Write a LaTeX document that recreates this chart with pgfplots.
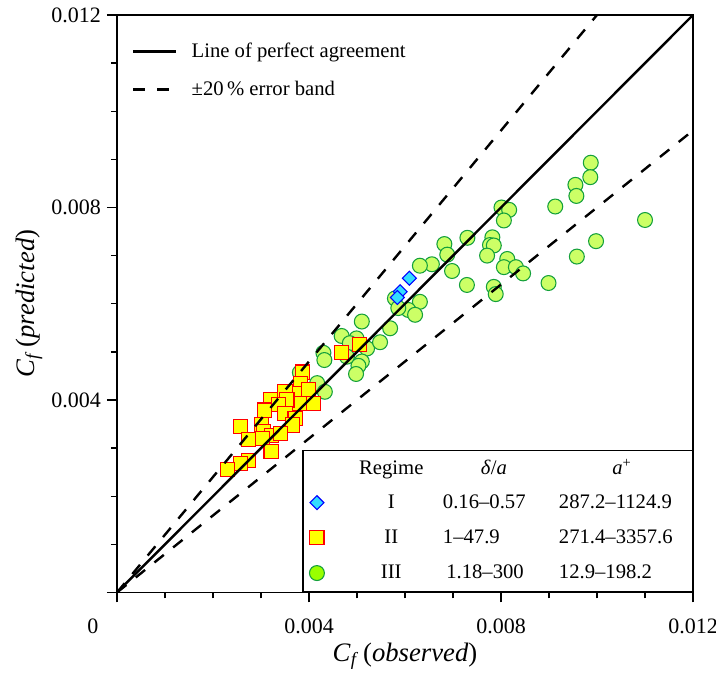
\documentclass[border=0pt]{standalone}
\usepackage{fontspec}
\setmainfont{Liberation Serif}
\newcommand{\tk}[1]{\mbox{\fontsize{16.5}{20}\selectfont #1}}
\usepackage{pgfplots}
\pgfplotsset{compat=1.18}

\definecolor{cyanfill}{RGB}{51,221,255}
\definecolor{diaedge}{RGB}{0,0,255}
\definecolor{sqfill}{RGB}{255,255,0}
\definecolor{sqedge}{RGB}{255,0,0}
\definecolor{cfill}{RGB}{204,255,102}
\definecolor{cedge}{RGB}{20,160,60}
\definecolor{clegend}{RGB}{153,255,0}

\pgfplotsset{
  common/.style={scale only axis, width=432pt, height=433.1pt,
    xmin=0, xmax=0.012, ymin=0, ymax=0.012},
  regI/.style={only marks, mark=square*, mark size=3.7pt,
    mark options={rotate=45, fill=cyanfill, draw=diaedge, line width=0.8pt}},
  regII/.style={only marks, mark=square*, mark size=5.3pt,
    mark options={fill=sqfill, draw=sqedge, line width=0.8pt}},
  regIII/.style={only marks, mark=*, mark size=5.6pt,
    mark options={fill=cfill, draw=cedge, line width=0.8pt}},
}

\begin{document}
\begin{tikzpicture}
% points and the regime table
\begin{axis}[common, hide axis,
  legend image code/.code={\path[draw=none, fill=none] (-7pt,-7pt) rectangle (7pt,7pt);
    \draw[#1] plot coordinates {(0pt,0pt)};},
  legend style={at={(rel axis cs:1,0)}, anchor=south east, draw=black,
    line width=1.1pt, fill=white, font=\fontsize{15.5}{18}\selectfont,
    inner xsep=3.5pt, inner ysep=7pt, nodes={inner sep=0pt}, row sep=12.4pt,
    /tikz/every odd column/.append style={column sep=10pt},
    cells={anchor=west}},
]
\addlegendimage{empty legend}
\addlegendentry{\makebox[77.5pt][c]{Regime}\makebox[87pt][l]{\hspace{28.5pt}\textit{δ}/\textit{a}}\makebox[96.5pt][l]{\hspace{40pt}\textit{a}\textsuperscript{+}}}
\addlegendimage{regI}
\addlegendentry{\makebox[77.5pt][c]{I}\makebox[87pt][l]{0.16–0.57}\makebox[96.5pt][l]{287.2–1124.9}}
\addlegendimage{regII}
\addlegendentry{\makebox[77.5pt][c]{II}\makebox[87pt][l]{1–47.9}\makebox[96.5pt][l]{271.4–3357.6}}
\addlegendimage{regIII, mark options={fill=clegend, draw=cedge, line width=0.8pt}}
\addlegendentry{\makebox[77.5pt][c]{III}\makebox[87pt][l]{\hspace{2.5pt}1.18–300}\makebox[96.5pt][l]{12.9–198.2}}

% regime III
\addplot[regIII, forget plot] table {
x y
0.00987 0.00893
0.00986 0.00863
0.00955 0.00847
0.00957 0.00824
0.00913 0.00802
0.01100 0.00774
0.00801 0.00800
0.00817 0.00795
0.00806 0.00773
0.00730 0.00737
0.00682 0.00724
0.00688 0.00702
0.00656 0.00682
0.00698 0.00668
0.00782 0.00738
0.00777 0.00722
0.00785 0.00721
0.00771 0.00700
0.00813 0.00693
0.00806 0.00676
0.00831 0.00676
0.00846 0.00663
0.00998 0.00730
0.00958 0.00698
0.00899 0.00643
0.00729 0.00639
0.00785 0.00635
0.00789 0.00620
0.00631 0.00679
0.00579 0.00611
0.00631 0.00604
0.00607 0.00587
0.00621 0.00577
0.00586 0.00591
0.00569 0.00549
0.00510 0.00563
0.00468 0.00533
0.00499 0.00528
0.00485 0.00518
0.00521 0.00507
0.00548 0.00520
0.00430 0.00498
0.00432 0.00483
0.00510 0.00480
0.00503 0.00471
0.00498 0.00454
0.00479 0.00490
0.00381 0.00457
0.00417 0.00435
0.00433 0.00417
};
% regime II
\addplot[regII, forget plot] table {
x y
0.00468 0.00498
0.00506 0.00516
0.00387 0.00458
0.00383 0.00435
0.00350 0.00417
0.00381 0.00414
0.00399 0.00421
0.00381 0.00393
0.00410 0.00392
0.00319 0.00401
0.00354 0.00400
0.00308 0.00379
0.00336 0.00390
0.00350 0.00372
0.00371 0.00362
0.00365 0.00348
0.00258 0.00345
0.00301 0.00348
0.00305 0.00334
0.00322 0.00327
0.00340 0.00331
0.00274 0.00318
0.00303 0.00320
0.00321 0.00293
0.00274 0.00275
0.00258 0.00268
0.00231 0.00256
};
% regime I
\addplot[regI, forget plot] table {
x y
0.00609 0.00653
0.00590 0.00625
0.00584 0.00613
};
\end{axis}

% frame, agreement lines, ticks
\begin{axis}[common,
  axis line style={line width=1.2pt},
  tick align=outside, tick pos=left, scaled ticks=false,
  xtick={0,0.004,0.008,0.012}, ytick={0,0.004,0.008,0.012},
  xticklabels={\llap{\tk{0}\hspace{14pt}},\tk{0.004},\tk{0.008},\tk{0.012}\hspace{3pt}},
  yticklabels={,\tk{0.004},\tk{0.008},\tk{0.012}},
  xticklabel style={yshift=-9pt},
  yticklabel style={xshift=-1pt},
  minor tick num=3, major tick length=7.5pt, minor tick length=4.5pt,
  tick style={line width=1pt, black},
  xlabel={\textit{C}\textsubscript{\textit{f}}\,(\textit{observed})},
  ylabel={\textit{C}\textsubscript{\textit{f}}\,(\textit{predicted})},
  label style={font=\fontsize{20}{24}\selectfont},
  legend image code/.code={\draw[#1] (0pt,0pt) -- (32pt,0pt);},
  legend style={at={(rel axis cs:0,1)}, anchor=north west, draw=none,
    fill=none, font=\fontsize{15.5}{18}\selectfont, inner xsep=11pt,
    inner ysep=21pt, nodes={inner sep=0pt}, row sep=16pt,
    /tikz/every odd column/.append style={column sep=11pt},
    cells={anchor=west}},
]
\addplot[black, line width=1.8pt] coordinates {(0,0) (0.012,0.012)};
\addlegendentry{Line of perfect agreement}
\addplot[black, line width=1.8pt, dash pattern=on 9pt off 9pt] coordinates {(0,0) (0.01,0.012)};
\addlegendentry{±20\,\% error band}
\addplot[black, line width=1.8pt, dash pattern=on 9pt off 9pt, forget plot] coordinates {(0,0) (0.012,0.0096)};
\coordinate (bl) at (rel axis cs:0,0);
\coordinate (tr) at (rel axis cs:1,1);
\end{axis}
\pgfresetboundingbox
\path ([shift={(-87.75pt,-60.4pt)}]bl) rectangle ([shift={(17.25pt,11.25pt)}]tr);
\end{tikzpicture}
\end{document}
